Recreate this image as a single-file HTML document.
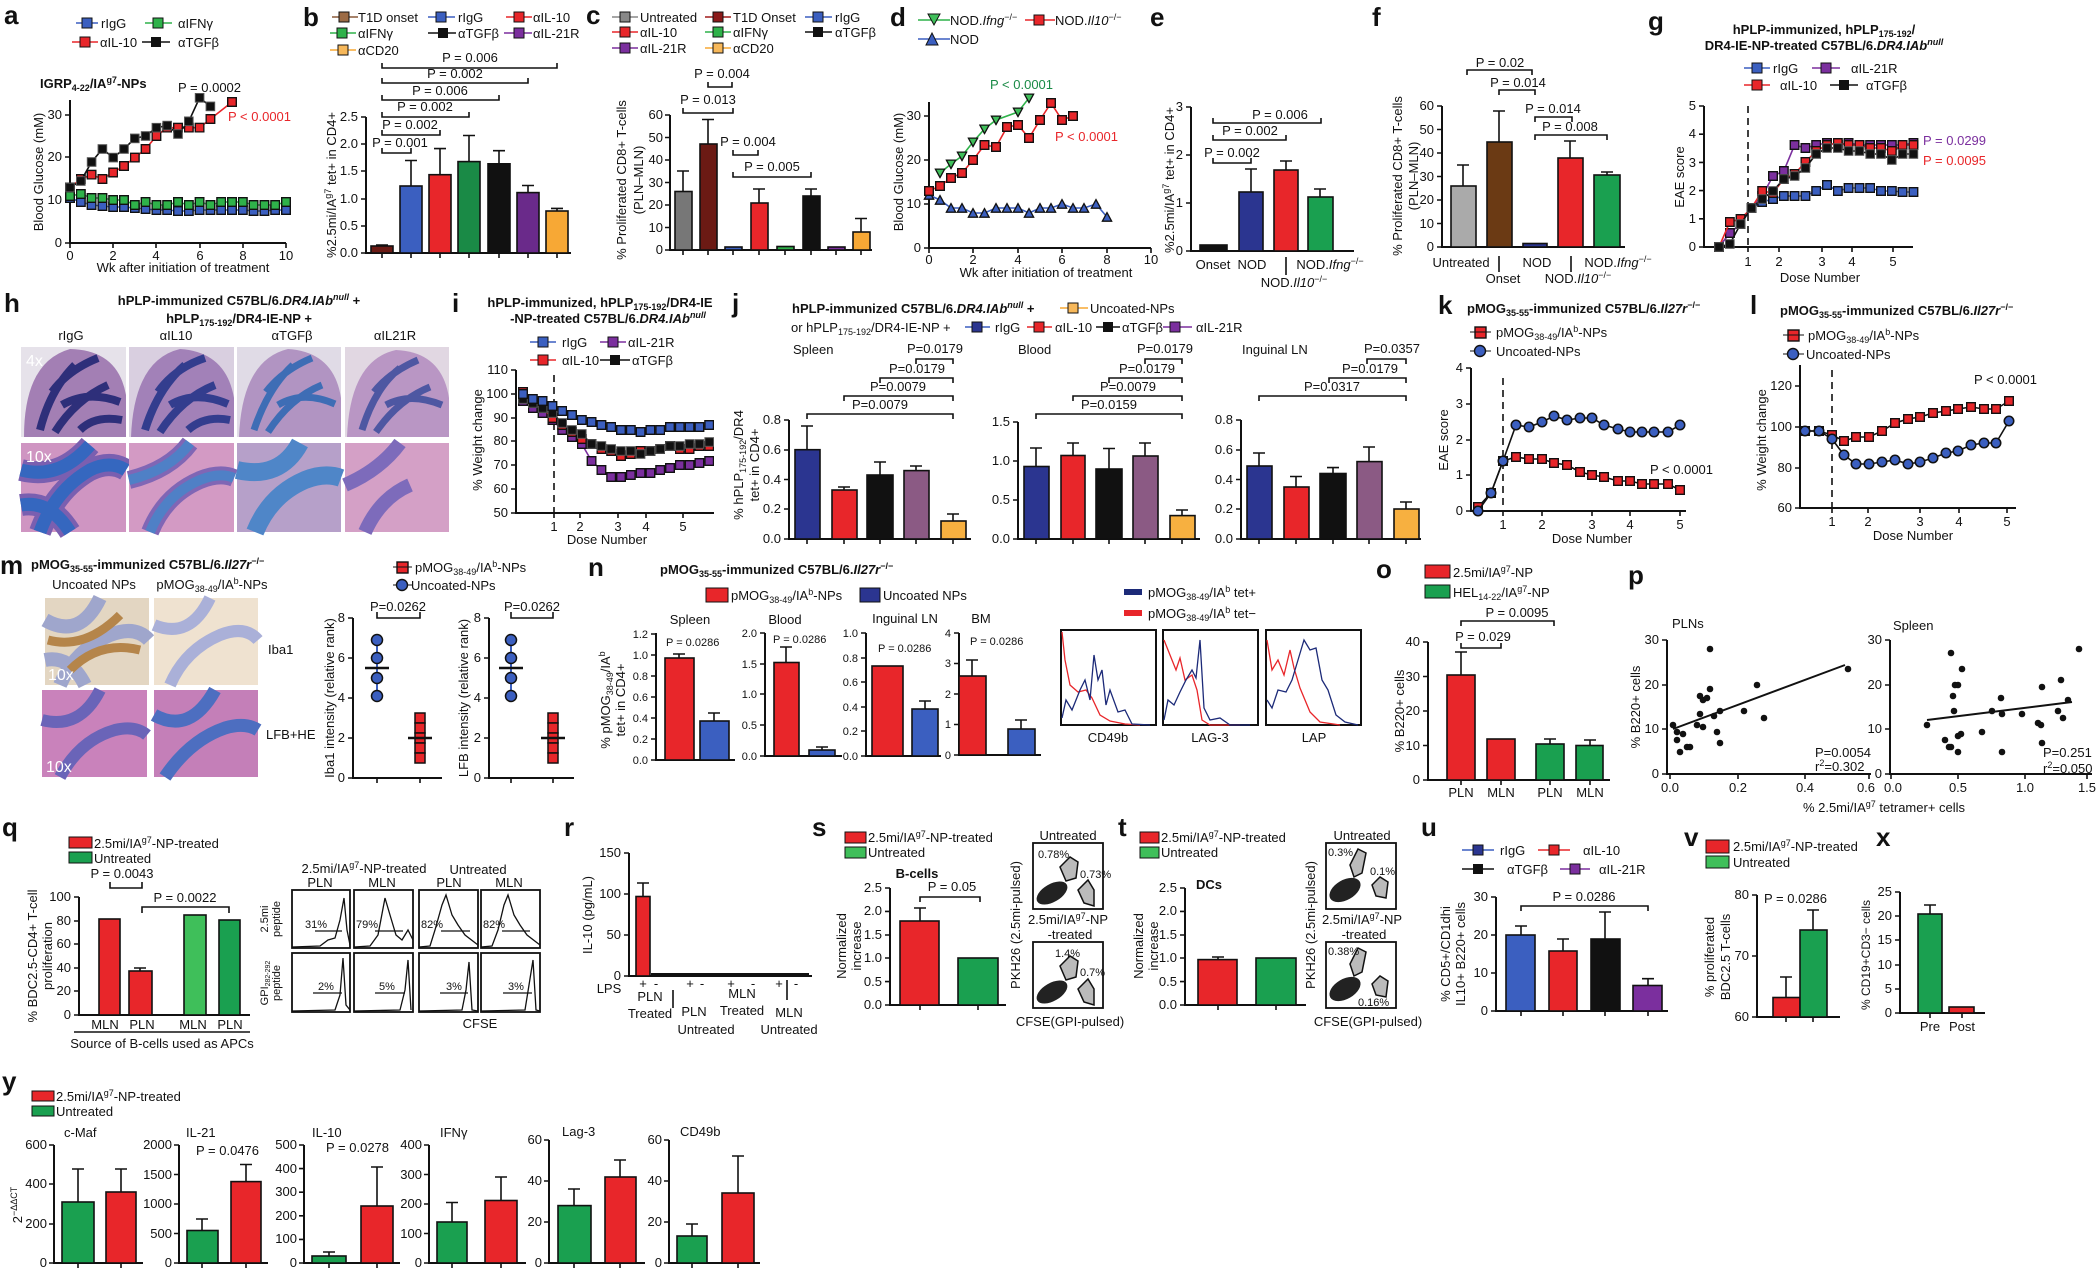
<!DOCTYPE html>
<html><head><meta charset="utf-8"><style>
html,body{margin:0;padding:0;background:#fff}
svg{display:block}
text{font-family:"Liberation Sans",Arial,sans-serif;font-size:13px;fill:#111}
.L{font-size:26px;font-weight:bold}
.b{font-weight:bold}
.s{font-size:11px}
.ax{fill:none;stroke:#111;stroke-width:2}
.br{fill:none;stroke:#111;stroke-width:1.6}
.e{stroke:#111;stroke-width:1.6}
.bar{stroke:#111;stroke-width:1.6}
.ln{fill:none;stroke-width:1.6}
</style></head><body>
<svg width="2100" height="1268" viewBox="0 0 2100 1268" xmlns="http://www.w3.org/2000/svg">
<defs>
<marker id="mR" viewBox="0 0 10 10" refX="5" refY="5" markerWidth="10" markerHeight="10" markerUnits="userSpaceOnUse"><rect x="0.7" y="0.7" width="8.6" height="8.6" fill="#e8262a" stroke="#111" stroke-width="1.4"/></marker>
<marker id="mB" viewBox="0 0 10 10" refX="5" refY="5" markerWidth="10" markerHeight="10" markerUnits="userSpaceOnUse"><rect x="0.7" y="0.7" width="8.6" height="8.6" fill="#3b5fc0" stroke="#111" stroke-width="1.4"/></marker>
<marker id="mG" viewBox="0 0 10 10" refX="5" refY="5" markerWidth="10" markerHeight="10" markerUnits="userSpaceOnUse"><rect x="0.7" y="0.7" width="8.6" height="8.6" fill="#2fb24a" stroke="#111" stroke-width="1.4"/></marker>
<marker id="mK" viewBox="0 0 10 10" refX="5" refY="5" markerWidth="10" markerHeight="10" markerUnits="userSpaceOnUse"><rect x="0.7" y="0.7" width="8.6" height="8.6" fill="#111" stroke="#555" stroke-width="1"/></marker>
<marker id="mP" viewBox="0 0 10 10" refX="5" refY="5" markerWidth="10" markerHeight="10" markerUnits="userSpaceOnUse"><rect x="0.7" y="0.7" width="8.6" height="8.6" fill="#7b2f9e" stroke="#111" stroke-width="1.4"/></marker>
<marker id="cB" viewBox="0 0 10 10" refX="5" refY="5" markerWidth="11" markerHeight="11" markerUnits="userSpaceOnUse"><circle cx="5" cy="5" r="4.3" fill="#3b5fc0" stroke="#111" stroke-width="1.4"/></marker>
<marker id="tG" viewBox="0 0 10 10" refX="5" refY="5" markerWidth="11" markerHeight="11" markerUnits="userSpaceOnUse"><path d="M0.8 1.5H9.2L5 9.2Z" fill="#3fbf5a" stroke="#111" stroke-width="1.2"/></marker>
<marker id="tB" viewBox="0 0 10 10" refX="5" refY="5" markerWidth="11" markerHeight="11" markerUnits="userSpaceOnUse"><path d="M0.8 8.8H9.2L5 1Z" fill="#3b5fc0" stroke="#111" stroke-width="1.2"/></marker>
</defs>

<!-- ================= a ================= -->
<text x="4" y="24" class="L">a</text>
<g>
<line x1="76" y1="23" x2="98" y2="23" stroke="#3b5fc0" stroke-width="1.5"/><rect x="82" y="18" width="10" height="10" fill="#3b5fc0" stroke="#111"/><text x="101" y="28">rIgG</text>
<line x1="145" y1="23" x2="172" y2="23" stroke="#2fb24a" stroke-width="1.5"/><rect x="153" y="18" width="10" height="10" fill="#2fb24a" stroke="#111"/><text x="178" y="28">αIFNγ</text>
<line x1="72" y1="42" x2="98" y2="42" stroke="#e8262a" stroke-width="1.5"/><rect x="80" y="37" width="10" height="10" fill="#e8262a" stroke="#111"/><text x="100" y="47">αIL-10</text>
<line x1="142" y1="42" x2="170" y2="42" stroke="#111" stroke-width="1.5"/><rect x="151" y="37" width="10" height="10" fill="#111"/><text x="178" y="47">αTGFβ</text>
<text x="40" y="88" class="b">IGRP<tspan font-size="9" dy="3">4-22</tspan><tspan dy="-3">/IA</tspan><tspan font-size="9" dy="-5">g7</tspan><tspan dy="5">-NPs</tspan></text>
<path class="ax" d="M70 100V243H286"/>
<g class="e"><path d="M70 243h-5M70 200h-5M70 157h-5M70 115h-5M70 243v5M113 243v5M156 243v5M200 243v5M243 243v5M286 243v5"/></g>
<text x="62" y="247" text-anchor="end">0</text><text x="62" y="204" text-anchor="end">10</text><text x="62" y="161" text-anchor="end">20</text><text x="62" y="119" text-anchor="end">30</text>
<text x="70" y="260" text-anchor="middle">0</text><text x="113" y="260" text-anchor="middle">2</text><text x="156" y="260" text-anchor="middle">4</text><text x="200" y="260" text-anchor="middle">6</text><text x="243" y="260" text-anchor="middle">8</text><text x="286" y="260" text-anchor="middle">10</text>
<text x="183" y="272" text-anchor="middle">Wk after initiation of treatment</text>
<text transform="translate(43,172) rotate(-90)" text-anchor="middle">Blood Glucose (mM)</text>
<text x="178" y="92">P = 0.0002</text><text x="228" y="121" style="fill:#e8262a">P &lt; 0.0001</text>
<polyline class="ln" stroke="#3b5fc0" marker-start="url(#mB)" marker-mid="url(#mB)" marker-end="url(#mB)" points="70,198 80.8,202 91.6,205 102.4,206 113.2,207 124,207 134.8,208 145.6,209 156.4,210 167.2,210 178,211 188.8,211 199.6,210 210.4,210 221.2,210 232,210 242.8,210 253.6,211 264.4,211 275.2,210 286,210"/>
<polyline class="ln" stroke="#2fb24a" marker-start="url(#mG)" marker-mid="url(#mG)" marker-end="url(#mG)" points="70,196 80.8,194 91.6,198 102.4,198 113.2,200 124,200 134.8,205 145.6,202 156.4,205 167.2,205 178,202 188.8,205 199.6,202 210.4,205 221.2,202 232,202 242.8,202 253.6,205 264.4,205 275.2,205 286,202"/>
<polyline class="ln" stroke="#e8262a" marker-start="url(#mR)" marker-mid="url(#mR)" marker-end="url(#mR)" points="70,187.5 80.8,179 91.6,174.7 102.4,179 113.2,172.5 124,166 134.8,157.6 145.6,149 156.4,136 167.2,127.7 178,127.7 188.8,127.7 199.6,127.7 210.4,119 232,102"/>
<polyline class="ln" stroke="#111" marker-start="url(#mK)" marker-mid="url(#mK)" marker-end="url(#mK)" points="70,187.5 80.8,181 91.6,162 102.4,149 113.2,157.6 124,149 134.8,138.4 145.6,136 156.4,127.7 167.2,125.6 178,134 188.8,121.3 199.6,97.8 210.4,106.4"/>
</g>

<!-- ================= b ================= -->
<text x="303" y="26" class="L">b</text>
<g>
<line x1="332" y1="17" x2="358" y2="17" stroke="#8a5a3a" stroke-width="1.5"/><rect x="339" y="12" width="10" height="10" fill="#9c6b45" stroke="#111"/><text x="358" y="22">T1D onset</text>
<line x1="428" y1="17" x2="455" y2="17" stroke="#3b5fc0" stroke-width="1.5"/><rect x="436" y="12" width="10" height="10" fill="#3b5fc0" stroke="#111"/><text x="458" y="22">rIgG</text>
<line x1="506" y1="17" x2="532" y2="17" stroke="#e8262a" stroke-width="1.5"/><rect x="514" y="12" width="10" height="10" fill="#e8262a" stroke="#111"/><text x="533" y="22">αIL-10</text>
<line x1="330" y1="33" x2="356" y2="33" stroke="#2fb24a" stroke-width="1.5"/><rect x="337" y="28" width="10" height="10" fill="#2fb24a" stroke="#111"/><text x="358" y="38">αIFNγ</text>
<line x1="428" y1="33" x2="456" y2="33" stroke="#111" stroke-width="1.5"/><rect x="438" y="28" width="10" height="10" fill="#111"/><text x="458" y="38">αTGFβ</text>
<line x1="504" y1="33" x2="532" y2="33" stroke="#7b2f9e" stroke-width="1.5"/><rect x="514" y="28" width="10" height="10" fill="#7b2f9e" stroke="#111"/><text x="533" y="38">αIL-21R</text>
<line x1="330" y1="50" x2="356" y2="50" stroke="#f7a835" stroke-width="1.5"/><rect x="338" y="45" width="10" height="10" fill="#f7b85a" stroke="#111"/><text x="358" y="55">αCD20</text>
<path class="ax" d="M366 117V253H571"/>
<g class="e"><path d="M366 253h-5M366 226h-5M366 199h-5M366 171h-5M366 144h-5M366 117h-5M382 253v5M411 253v5M440 253v5M469 253v5M499 253v5M528 253v5M557 253v5"/></g>
<text x="358" y="257" text-anchor="end">0.0</text><text x="358" y="230" text-anchor="end">0.5</text><text x="358" y="203" text-anchor="end">1.0</text><text x="358" y="175" text-anchor="end">1.5</text><text x="358" y="148" text-anchor="end">2.0</text><text x="358" y="121" text-anchor="end">2.5</text>
<text transform="translate(336,185) rotate(-90)" text-anchor="middle">%2.5mi/IA<tspan font-size="9" dy="-5">g7</tspan><tspan dy="5"> tet+ in CD4+</tspan></text>
<g class="e"><path d="M382 246V245M376 245h12M411 186V160.5M405 160.5h12M440 175V148.6M434 148.6h12M469 162V135.5M463 135.5h12M499 164V150.7M493 150.7h12M528 193V185.5M522 185.5h12M557 211V208.4M551 208.4h12"/></g>
<rect class="bar" x="371" y="246" width="22" height="7" fill="#6b1a14"/>
<rect class="bar" x="400" y="186" width="22" height="67" fill="#3b5fc0"/>
<rect class="bar" x="429" y="174.7" width="22" height="78.3" fill="#e8262a"/>
<rect class="bar" x="458" y="161.6" width="22" height="91.4" fill="#1a8a46"/>
<rect class="bar" x="488" y="163.8" width="22" height="89.2" fill="#111"/>
<rect class="bar" x="517" y="192.6" width="22" height="60.4" fill="#6a2a8a"/>
<rect class="bar" x="546" y="211" width="22" height="42" fill="#f7a835"/>
<g class="br"><path d="M382 148V153H411V148M382 130V135H440V130M382 112V117H469V112M382 95V100H499V95M382 78V83H528V78M382 63V68H557V63"/></g>
<text x="400" y="147" text-anchor="middle">P = 0.001</text><text x="410" y="129" text-anchor="middle">P = 0.002</text><text x="425" y="111" text-anchor="middle">P = 0.002</text><text x="440" y="95" text-anchor="middle">P = 0.006</text><text x="455" y="78" text-anchor="middle">P = 0.002</text><text x="470" y="62" text-anchor="middle">P = 0.006</text>
</g>

<!-- ================= c ================= -->
<text x="586" y="24" class="L">c</text>
<g>
<line x1="612" y1="17" x2="638" y2="17" stroke="#888" stroke-width="1.5"/><rect x="620" y="12" width="10" height="10" fill="#888" stroke="#111"/><text x="640" y="22">Untreated</text>
<line x1="705" y1="17" x2="731" y2="17" stroke="#a01a1a" stroke-width="1.5"/><rect x="713" y="12" width="10" height="10" fill="#8b1a1a" stroke="#111"/><text x="733" y="22">T1D Onset</text>
<line x1="805" y1="17" x2="832" y2="17" stroke="#3b5fc0" stroke-width="1.5"/><rect x="813" y="12" width="10" height="10" fill="#3b5fc0" stroke="#111"/><text x="835" y="22">rIgG</text>
<line x1="612" y1="32" x2="638" y2="32" stroke="#e8262a" stroke-width="1.5"/><rect x="620" y="27" width="10" height="10" fill="#e8262a" stroke="#111"/><text x="640" y="37">αIL-10</text>
<line x1="705" y1="32" x2="731" y2="32" stroke="#2fb24a" stroke-width="1.5"/><rect x="713" y="27" width="10" height="10" fill="#2fb24a" stroke="#111"/><text x="733" y="37">αIFNγ</text>
<line x1="805" y1="32" x2="832" y2="32" stroke="#111" stroke-width="1.5"/><rect x="813" y="27" width="10" height="10" fill="#111"/><text x="835" y="37">αTGFβ</text>
<line x1="612" y1="48" x2="638" y2="48" stroke="#7b2f9e" stroke-width="1.5"/><rect x="620" y="43" width="10" height="10" fill="#7b2f9e" stroke="#111"/><text x="640" y="53">αIL-21R</text>
<line x1="705" y1="48" x2="731" y2="48" stroke="#f7a835" stroke-width="1.5"/><rect x="713" y="43" width="10" height="10" fill="#f7b85a" stroke="#111"/><text x="733" y="53">αCD20</text>
<path class="ax" d="M670 115V250H872"/>
<g class="e"><path d="M670 250h-5M670 227.5h-5M670 205h-5M670 182.5h-5M670 160h-5M670 137.5h-5M670 115h-5M683 250v5M708 250v5M733 250v5M759 250v5M785 250v5M811 250v5M836 250v5M861 250v5"/></g>
<text x="663" y="254" text-anchor="end">0</text><text x="663" y="232" text-anchor="end">10</text><text x="663" y="209" text-anchor="end">20</text><text x="663" y="187" text-anchor="end">30</text><text x="663" y="164" text-anchor="end">40</text><text x="663" y="142" text-anchor="end">50</text><text x="663" y="119" text-anchor="end">60</text>
<text transform="translate(626,180) rotate(-90)" text-anchor="middle">% Proliferated CD8+ T-cells</text>
<text transform="translate(643,180) rotate(-90)" text-anchor="middle">(PLN–MLN)</text>
<g class="e"><path d="M683 191V171M677 171h12M708 144V119.5M702 119.5h12M759 203V189M753 189h12M811 196V189M805 189h12M861 232V218.5M855 218.5h12"/></g>
<rect class="bar" x="675" y="191.5" width="17" height="58.5" fill="#777"/>
<rect class="bar" x="700" y="144" width="17" height="106" fill="#6b1a14"/>
<rect class="bar" x="725" y="247" width="17" height="3" fill="#3b5fc0"/>
<rect class="bar" x="751" y="203" width="17" height="47" fill="#e8262a"/>
<rect class="bar" x="777" y="246.5" width="17" height="3.5" fill="#2fb24a"/>
<rect class="bar" x="803" y="196" width="17" height="54" fill="#111"/>
<rect class="bar" x="828" y="247" width="17" height="3" fill="#7b2f9e"/>
<rect class="bar" x="853" y="232" width="17" height="18" fill="#f7a835"/>
<g class="br"><path d="M708 82V87H732V82M683 108V113H733V108M733 150V155H758V150M733 172V177H811V172"/></g>
<text x="722" y="78" text-anchor="middle">P = 0.004</text><text x="708" y="104" text-anchor="middle">P = 0.013</text><text x="748" y="146" text-anchor="middle">P = 0.004</text><text x="772" y="171" text-anchor="middle">P = 0.005</text>
</g>

<!-- ================= d ================= -->
<text x="890" y="26" class="L">d</text>
<g>
<line x1="918" y1="20" x2="950" y2="20" stroke="#2fb24a" stroke-width="1.5"/><path d="M928 14H940L934 25Z" fill="#3fbf5a" stroke="#111"/><text x="950" y="25">NOD.<tspan font-style="italic">Ifng</tspan><tspan font-size="9" dy="-5">−/−</tspan></text>
<line x1="1025" y1="20" x2="1055" y2="20" stroke="#e8262a" stroke-width="1.5"/><rect x="1034" y="15" width="10" height="10" fill="#e8262a" stroke="#111"/><text x="1055" y="25">NOD.<tspan font-style="italic">Il10</tspan><tspan font-size="9" dy="-5">−/−</tspan></text>
<line x1="918" y1="39" x2="950" y2="39" stroke="#3b5fc0" stroke-width="1.5"/><path d="M926 45H938L932 33Z" fill="#3b5fc0" stroke="#111"/><text x="950" y="44">NOD</text>
<text x="990" y="89" style="fill:#1a8a46">P &lt; 0.0001</text>
<text x="1055" y="141" style="fill:#e8262a">P &lt; 0.0001</text>
<path class="ax" d="M929 102V248H1151"/>
<g class="e"><path d="M929 248h-5M929 204h-5M929 160h-5M929 116h-5M929 248v5M973 248v5M1018 248v5M1062 248v5M1107 248v5M1151 248v5"/></g>
<text x="921" y="252" text-anchor="end">0</text><text x="921" y="208" text-anchor="end">10</text><text x="921" y="164" text-anchor="end">20</text><text x="921" y="120" text-anchor="end">30</text>
<text x="929" y="264" text-anchor="middle">0</text><text x="973" y="264" text-anchor="middle">2</text><text x="1018" y="264" text-anchor="middle">4</text><text x="1062" y="264" text-anchor="middle">6</text><text x="1107" y="264" text-anchor="middle">8</text><text x="1151" y="264" text-anchor="middle">10</text>
<text x="1046" y="277" text-anchor="middle">Wk after initiation of treatment</text>
<text transform="translate(903,172) rotate(-90)" text-anchor="middle">Blood Glucose (mM)</text>
<polyline class="ln" stroke="#3b5fc0" marker-start="url(#tB)" marker-mid="url(#tB)" marker-end="url(#tB)" points="929,195 940,200 951,208 962,208 973,213 984.5,213 996,208 1007,208 1018,208 1029,213 1040,208 1051,208 1062,204 1073,208 1084,208 1096,204 1107,217"/>
<polyline class="ln" stroke="#e8262a" marker-start="url(#mR)" marker-mid="url(#mR)" marker-end="url(#mR)" points="929,191 940,186 951,178 962,173 973,160 984.5,145 996,147 1007,127 1018,125 1029,138 1040,120 1051,103 1062,120 1073,116"/>
<polyline class="ln" stroke="#2fb24a" marker-start="url(#tG)" marker-mid="url(#tG)" marker-end="url(#tG)" points="940,173 951,164 962,156 973,142 984.5,129 996,120 1018,112 1029,98"/>
</g>

<!-- ================= e ================= -->
<text x="1150" y="26" class="L">e</text>
<g>
<path class="ax" d="M1191 107V251H1354"/>
<g class="e"><path d="M1191 251h-5M1191 203h-5M1191 155h-5M1191 107h-5"/></g>
<text x="1183" y="255" text-anchor="end">0</text><text x="1183" y="207" text-anchor="end">1</text><text x="1183" y="159" text-anchor="end">2</text><text x="1183" y="111" text-anchor="end">3</text>
<text transform="translate(1174,180) rotate(-90)" text-anchor="middle">%2.5mi/IA<tspan font-size="9" dy="-5">g7</tspan><tspan dy="5"> tet+ in CD4+</tspan></text>
<g class="e"><path d="M1251 192V169M1245 169h12M1286 170V161M1280 161h12M1320 197V189M1314 189h12"/></g>
<rect class="bar" x="1200" y="245" width="27" height="6" fill="#111"/>
<rect class="bar" x="1239" y="192" width="24" height="59" fill="#2b3590"/>
<rect class="bar" x="1274" y="170" width="24" height="81" fill="#e8262a"/>
<rect class="bar" x="1308" y="197" width="25" height="54" fill="#1aa050"/>
<g class="br"><path d="M1213 158V163H1251V158M1213 135V140H1286V135M1213 118V123H1321V118"/></g>
<text x="1232" y="157" text-anchor="middle">P = 0.002</text><text x="1250" y="135" text-anchor="middle">P = 0.002</text><text x="1280" y="119" text-anchor="middle">P = 0.006</text>
<text x="1213" y="269" text-anchor="middle">Onset</text><text x="1252" y="269" text-anchor="middle">NOD</text><text x="1330" y="269" text-anchor="middle">NOD.<tspan font-style="italic">Ifng</tspan><tspan font-size="9" dy="-5">−/−</tspan></text>
<text x="1294" y="287" text-anchor="middle">NOD.<tspan font-style="italic">Il10</tspan><tspan font-size="9" dy="-5">−/−</tspan></text>
<path class="e" d="M1286 257V275"/>
</g>

<!-- ================= f ================= -->
<text x="1372" y="26" class="L">f</text>
<g>
<path class="ax" d="M1442 106V247H1625"/>
<g class="e"><path d="M1442 247h-5M1442 223.5h-5M1442 200h-5M1442 176.5h-5M1442 153h-5M1442 129.5h-5M1442 106h-5"/></g>
<text x="1434" y="251" text-anchor="end">0</text><text x="1434" y="228" text-anchor="end">10</text><text x="1434" y="204" text-anchor="end">20</text><text x="1434" y="181" text-anchor="end">30</text><text x="1434" y="157" text-anchor="end">40</text><text x="1434" y="134" text-anchor="end">50</text><text x="1434" y="110" text-anchor="end">60</text>
<text transform="translate(1402,176) rotate(-90)" text-anchor="middle">% Proliferated CD8+ T-cells</text>
<text transform="translate(1418,176) rotate(-90)" text-anchor="middle">(PLN–MLN)</text>
<g class="e"><path d="M1463 186V165M1457 165h12M1499 142V111M1493 111h12M1570 158V141M1564 141h12M1607 175V172M1601 172h12"/></g>
<rect class="bar" x="1451" y="186" width="25" height="61" fill="#aaa"/>
<rect class="bar" x="1487" y="142" width="25" height="105" fill="#6b3a14"/>
<rect class="bar" x="1523" y="243.5" width="24" height="3.5" fill="#2b3590"/>
<rect class="bar" x="1558" y="158" width="25" height="89" fill="#e8262a"/>
<rect class="bar" x="1594" y="175" width="26" height="72" fill="#1aa050"/>
<g class="br"><path d="M1467 75V70H1532V75M1499 95V90H1535V95M1535 122V117H1572V122M1535 140V135H1607V140"/></g>
<text x="1500" y="67" text-anchor="middle">P = 0.02</text><text x="1518" y="87" text-anchor="middle">P = 0.014</text><text x="1553" y="113" text-anchor="middle">P = 0.014</text><text x="1570" y="131" text-anchor="middle">P = 0.008</text>
<text x="1461" y="267" text-anchor="middle">Untreated</text><text x="1503" y="283" text-anchor="middle">Onset</text><text x="1537" y="267" text-anchor="middle">NOD</text><text x="1578" y="283" text-anchor="middle">NOD.<tspan font-style="italic">Il10</tspan><tspan font-size="9" dy="-5">−/−</tspan></text><text x="1618" y="267" text-anchor="middle">NOD.<tspan font-style="italic">Ifng</tspan><tspan font-size="9" dy="-5">−/−</tspan></text>
<path class="e" d="M1499 256V272M1571 256V272"/>
</g>

<!-- ================= g ================= -->
<text x="1648" y="30" class="L">g</text>
<g>
<text x="1824" y="34" text-anchor="middle" class="b">hPLP-immunized, hPLP<tspan font-size="9" dy="3">175-192</tspan><tspan dy="-3">/</tspan></text>
<text x="1824" y="50" text-anchor="middle" class="b">DR4-IE-NP-treated C57BL/6.<tspan font-style="italic">DR4.IAb</tspan><tspan font-size="9" dy="-5" font-style="italic">null</tspan></text>
<line x1="1744" y1="68" x2="1770" y2="68" stroke="#3b5fc0" stroke-width="1.5"/><rect x="1752" y="63" width="10" height="10" fill="#3b5fc0" stroke="#111"/><text x="1773" y="73">rIgG</text>
<line x1="1812" y1="68" x2="1840" y2="68" stroke="#7b2f9e" stroke-width="1.5"/><rect x="1821" y="63" width="10" height="10" fill="#7b2f9e" stroke="#111"/><text x="1851" y="73">αIL-21R</text>
<line x1="1744" y1="85" x2="1770" y2="85" stroke="#e8262a" stroke-width="1.5"/><rect x="1752" y="80" width="10" height="10" fill="#e8262a" stroke="#111"/><text x="1780" y="90">αIL-10</text>
<line x1="1830" y1="85" x2="1858" y2="85" stroke="#111" stroke-width="1.5"/><rect x="1839" y="80" width="10" height="10" fill="#111"/><text x="1866" y="90">αTGFβ</text>
<path class="ax" d="M1704 106V247H1913"/>
<g class="e"><path d="M1704 247h-5M1704 218.8h-5M1704 190.6h-5M1704 162.4h-5M1704 134.2h-5M1704 106h-5M1748 247v5M1779 247v5M1822 247v5M1852 247v5M1893 247v5"/></g>
<text x="1696" y="251" text-anchor="end">0</text><text x="1696" y="223" text-anchor="end">1</text><text x="1696" y="195" text-anchor="end">2</text><text x="1696" y="167" text-anchor="end">3</text><text x="1696" y="138" text-anchor="end">4</text><text x="1696" y="110" text-anchor="end">5</text>
<text x="1748" y="266" text-anchor="middle">1</text><text x="1779" y="266" text-anchor="middle">2</text><text x="1822" y="266" text-anchor="middle">3</text><text x="1852" y="266" text-anchor="middle">4</text><text x="1893" y="266" text-anchor="middle">5</text>
<text x="1820" y="282" text-anchor="middle">Dose Number</text>
<text transform="translate(1684,177) rotate(-90)" text-anchor="middle">EAE score</text>
<line x1="1748" y1="106" x2="1748" y2="247" stroke="#111" stroke-width="1.6" stroke-dasharray="7,5"/>
<polyline class="ln" stroke="#3b5fc0" marker-start="url(#mB)" marker-mid="url(#mB)" marker-end="url(#mB)" points="1719,247 1729.8,233 1740.6,224 1751.4,208 1762.2,202 1773,199 1783.8,196 1794.6,196 1805.4,196 1816.2,191 1827,185 1837.8,191 1848.6,188 1859.4,188 1870.2,188 1881,191 1891.8,191 1902.6,192 1913.4,192"/>
<polyline class="ln" stroke="#7b2f9e" marker-start="url(#mP)" marker-mid="url(#mP)" marker-end="url(#mP)" points="1719,247 1729.8,233 1740.6,224 1751.4,208 1762.2,196 1773,176 1783.8,171 1794.6,145 1805.4,148 1816.2,145 1827,143 1837.8,145 1848.6,143 1859.4,145 1870.2,145 1881,145 1891.8,145 1902.6,145 1913.4,143"/>
<polyline class="ln" stroke="#e8262a" marker-start="url(#mR)" marker-mid="url(#mR)" marker-end="url(#mR)" points="1719,247 1729.8,222 1740.6,219 1751.4,208 1762.2,191 1773,193 1783.8,179 1794.6,174 1805.4,162 1816.2,151 1827,145 1837.8,143 1848.6,145 1859.4,145 1870.2,148 1881,148 1891.8,151 1902.6,145 1913.4,145"/>
<polyline class="ln" stroke="#111" marker-start="url(#mK)" marker-mid="url(#mK)" marker-end="url(#mK)" points="1719,247 1729.8,244 1740.6,224 1751.4,208 1762.2,199 1773,191 1783.8,179 1794.6,176 1805.4,168 1816.2,154 1827,148 1837.8,148 1848.6,151 1859.4,151 1870.2,154 1881,154 1891.8,160 1902.6,154 1913.4,154"/>
<text x="1923" y="145" style="fill:#7b2f9e">P = 0.0299</text><text x="1923" y="165" style="fill:#e8262a">P = 0.0095</text>
</g>

<!-- ================= h ================= -->
<text x="4" y="312" class="L">h</text>
<g>
<text x="239" y="305" text-anchor="middle" class="b">hPLP-immunized C57BL/6.<tspan font-style="italic">DR4.IAb</tspan><tspan font-size="9" dy="-5" font-style="italic">null</tspan><tspan dy="5"> +</tspan></text>
<text x="239" y="323" text-anchor="middle" class="b">hPLP<tspan font-size="9" dy="3">175-192</tspan><tspan dy="-3">/DR4-IE-NP +</tspan></text>
<text x="71" y="340" text-anchor="middle">rIgG</text><text x="176" y="340" text-anchor="middle">αIL10</text><text x="292" y="340" text-anchor="middle">αTGFβ</text><text x="395" y="340" text-anchor="middle">αIL21R</text>
<rect x="21" y="347" width="105" height="90" fill="#e6e2ea"/>
<path d="M24 437 Q24 362 70 349 Q118 350 126 395 L126 437Z" fill="#a37fb4"/>
<path d="M40 430 Q50 390 75 365 M55 432 Q75 400 108 385 M62 405 Q88 390 120 402 M52 392 Q68 370 98 358 M80 430 Q95 415 122 420" stroke="#2e2f7a" stroke-width="8" fill="none"/>
<rect x="129" y="347" width="105" height="90" fill="#d9cfe0"/>
<path d="M131 437 Q134 360 180 349 Q226 352 234 398 L234 437Z" fill="#a281b8"/>
<path d="M145 430 Q158 388 185 365 M160 432 Q182 398 215 385 M170 405 Q195 390 228 404 M158 392 Q175 368 205 358 M188 430 Q205 415 230 420" stroke="#333d8e" stroke-width="8" fill="none"/>
<rect x="237" y="347" width="104" height="90" fill="#e0dbe6"/>
<path d="M239 437 Q242 360 288 349 Q334 352 341 398 L341 437Z" fill="#b194c2"/>
<path d="M254 430 Q268 388 293 365 M268 432 Q290 398 322 385 M278 405 Q303 390 335 404 M266 392 Q283 370 312 358" stroke="#3e6db5" stroke-width="7" fill="none"/>
<rect x="345" y="347" width="104" height="90" fill="#e1d7e2"/>
<path d="M347 437 Q350 360 396 350 Q442 352 449 398 L449 437Z" fill="#b996c4"/>
<path d="M362 430 Q375 388 400 368 M376 432 Q398 400 430 387 M386 405 Q410 392 442 405 M374 392 Q390 372 418 360" stroke="#4e57a2" stroke-width="7" fill="none"/>
<text x="26" y="366" style="fill:#fff;font-size:16px">4x</text>
<rect x="21" y="443" width="105" height="89" fill="#cf95c2"/>
<path d="M21 470 Q60 480 90 445 M40 532 Q55 490 90 470 Q110 460 126 470 M21 505 Q50 500 70 532" stroke="#7a5fb0" stroke-width="22" fill="none"/>
<path d="M21 470 Q60 480 90 445 M40 532 Q55 490 90 470 Q110 460 126 470 M21 505 Q50 500 70 532" stroke="#3567bf" stroke-width="13" fill="none"/>
<rect x="129" y="443" width="105" height="89" fill="#d39ac4"/>
<path d="M129 480 Q170 470 190 443 M150 532 Q165 495 200 480 Q220 472 234 478" stroke="#8066b5" stroke-width="18" fill="none"/>
<path d="M129 480 Q170 470 190 443 M150 532 Q165 495 200 480 Q220 472 234 478" stroke="#4f80c6" stroke-width="10" fill="none"/>
<rect x="237" y="443" width="104" height="89" fill="#b6a0c9"/>
<path d="M237 470 Q280 480 300 443 M255 532 Q270 495 305 480 Q325 472 341 478" stroke="#4f86c8" stroke-width="18" fill="none"/>
<rect x="345" y="443" width="104" height="89" fill="#d4a0c6"/>
<path d="M345 485 Q380 470 400 443 M365 532 Q380 498 410 485" stroke="#7d6bbb" stroke-width="14" fill="none"/>
<text x="26" y="462" style="fill:#fff;font-size:16px">10x</text>
</g>

<!-- ================= i ================= -->
<text x="452" y="312" class="L">i</text>
<g>
<text x="600" y="307" text-anchor="middle" class="b">hPLP-immunized, hPLP<tspan font-size="9" dy="3">175-192</tspan><tspan dy="-3">/DR4-IE</tspan></text>
<text x="608" y="323" text-anchor="middle" class="b">-NP-treated C57BL/6.<tspan font-style="italic">DR4.IAb</tspan><tspan font-size="9" dy="-5" font-style="italic">null</tspan></text>
<line x1="530" y1="342" x2="556" y2="342" stroke="#3b5fc0" stroke-width="1.5"/><rect x="538" y="337" width="10" height="10" fill="#3b5fc0" stroke="#111"/><text x="562" y="347">rIgG</text>
<line x1="600" y1="342" x2="626" y2="342" stroke="#7b2f9e" stroke-width="1.5"/><rect x="608" y="337" width="10" height="10" fill="#7b2f9e" stroke="#111"/><text x="628" y="347">αIL-21R</text>
<line x1="530" y1="360" x2="556" y2="360" stroke="#e8262a" stroke-width="1.5"/><rect x="538" y="355" width="10" height="10" fill="#e8262a" stroke="#111"/><text x="562" y="365">αIL-10</text>
<line x1="600" y1="360" x2="630" y2="360" stroke="#111" stroke-width="1.5"/><rect x="610" y="355" width="10" height="10" fill="#111"/><text x="632" y="365">αTGFβ</text>
<path class="ax" d="M516 370V513H714"/>
<g class="e"><path d="M516 513h-5M516 489h-5M516 465h-5M516 441h-5M516 418h-5M516 394h-5M516 370h-5M554 513v5M580 513v5M618 513v5M646 513v5M683 513v5"/></g>
<text x="508" y="517" text-anchor="end">50</text><text x="508" y="493" text-anchor="end">60</text><text x="508" y="469" text-anchor="end">70</text><text x="508" y="445" text-anchor="end">80</text><text x="508" y="422" text-anchor="end">90</text><text x="508" y="398" text-anchor="end">100</text><text x="508" y="374" text-anchor="end">110</text>
<text x="554" y="531" text-anchor="middle">1</text><text x="580" y="531" text-anchor="middle">2</text><text x="618" y="531" text-anchor="middle">3</text><text x="646" y="531" text-anchor="middle">4</text><text x="683" y="531" text-anchor="middle">5</text>
<text x="607" y="544" text-anchor="middle">Dose Number</text>
<text transform="translate(482,440) rotate(-90)" text-anchor="middle">% Weight change</text>
<line x1="554" y1="375" x2="554" y2="513" stroke="#111" stroke-width="1.6" stroke-dasharray="7,5"/>
<polyline class="ln" stroke="#7b2f9e" marker-start="url(#mP)" marker-mid="url(#mP)" marker-end="url(#mP)" points="523,401 532.8,408 542.6,413 552.4,420 562.2,430 572,437 581.8,444 591.6,461 601.4,470 611.2,477 621,477 630.8,475 640.6,473 650.4,473 660.2,470 670,468 679.8,465 689.6,465 699.4,463 709.2,461"/>
<polyline class="ln" stroke="#e8262a" marker-start="url(#mR)" marker-mid="url(#mR)" marker-end="url(#mR)" points="523,392 532.8,403 542.6,408 552.4,418 562.2,425 572,432 581.8,439 591.6,444 601.4,449 611.2,451 621,456 630.8,454 640.6,451 650.4,451 660.2,449 670,446 679.8,449 689.6,449 699.4,446 709.2,446"/>
<polyline class="ln" stroke="#111" marker-start="url(#mK)" marker-mid="url(#mK)" marker-end="url(#mK)" points="523,399 532.8,403 542.6,408 552.4,413 562.2,423 572,430 581.8,434 591.6,444 601.4,446 611.2,449 621,451 630.8,451 640.6,454 650.4,451 660.2,449 670,446 679.8,446 689.6,444 699.4,444 709.2,442"/>
<polyline class="ln" stroke="#3b5fc0" marker-start="url(#mB)" marker-mid="url(#mB)" marker-end="url(#mB)" points="523,394 532.8,399 542.6,401 552.4,406 562.2,411 572,415 581.8,420 591.6,422 601.4,425 611.2,427 621,430 630.8,430 640.6,432 650.4,430 660.2,430 670,427 679.8,427 689.6,427 699.4,427 709.2,425"/>
</g>

<!-- ================= j ================= -->
<text x="732" y="312" class="L">j</text>
<g>
<text x="792" y="313" class="b">hPLP-immunized C57BL/6.<tspan font-style="italic">DR4.IAb</tspan><tspan font-size="9" dy="-5" font-style="italic">null</tspan><tspan dy="5"> +</tspan></text>
<line x1="1060" y1="308" x2="1088" y2="308" stroke="#f7a835" stroke-width="1.5"/><rect x="1068" y="303" width="10" height="10" fill="#f7b85a" stroke="#111"/><text x="1090" y="313">Uncoated-NPs</text>
<text x="791" y="332">or hPLP<tspan font-size="9" dy="3">175-192</tspan><tspan dy="-3">/DR4-IE-NP +</tspan></text>
<line x1="965" y1="327" x2="990" y2="327" stroke="#3b5fc0" stroke-width="1.5"/><rect x="972" y="322" width="10" height="10" fill="#2b3590" stroke="#111"/><text x="995" y="332">rIgG</text>
<line x1="1027" y1="327" x2="1052" y2="327" stroke="#e8262a" stroke-width="1.5"/><rect x="1034" y="322" width="10" height="10" fill="#e8262a" stroke="#111"/><text x="1055" y="332">αIL-10</text>
<line x1="1096" y1="327" x2="1120" y2="327" stroke="#111" stroke-width="1.5"/><rect x="1103" y="322" width="10" height="10" fill="#111"/><text x="1122" y="332">αTGFβ</text>
<line x1="1163" y1="327" x2="1192" y2="327" stroke="#7b2f9e" stroke-width="1.5"/><rect x="1170" y="322" width="10" height="10" fill="#7b2f9e" stroke="#111"/><text x="1196" y="332">αIL-21R</text>
<text x="793" y="354">Spleen</text>
<path class="ax" d="M789 420V539H971"/>
<g class="e"><path d="M789 539h-5M789 509h-5M789 479.5h-5M789 450h-5M789 420h-5M807 539v5M844 539v5M880 539v5M916 539v5M953 539v5"/></g>
<text x="781" y="543" text-anchor="end">0.0</text><text x="781" y="513" text-anchor="end">0.2</text><text x="781" y="484" text-anchor="end">0.4</text><text x="781" y="454" text-anchor="end">0.6</text><text x="781" y="424" text-anchor="end">0.8</text>
<text transform="translate(743,465) rotate(-90)" text-anchor="middle">% hPLP<tspan font-size="9" dy="3">175-192</tspan><tspan dy="-3">/DR4</tspan></text>
<text transform="translate(759,465) rotate(-90)" text-anchor="middle">tet+ in CD4+</text>
<g class="e"><path d="M807 450V426M801 426h12M844 490V487M838 487h12M880 475V462M874 462h12M916 471V466M910 466h12M953 521V514M947 514h12"/></g>
<rect class="bar" x="795" y="449.7" width="25" height="89.3" fill="#2b3590"/>
<rect class="bar" x="832" y="490" width="25" height="49" fill="#e8262a"/>
<rect class="bar" x="867" y="475" width="26" height="64" fill="#111"/>
<rect class="bar" x="904" y="470.6" width="25" height="68.4" fill="#8b5a84"/>
<rect class="bar" x="941" y="521" width="25" height="18" fill="#f7b040"/>
<g class="br"><path d="M916 364V359H953V364M880 383V378H953V383M844 401V396H953V401M807 419V414H953V419"/></g>
<text x="935" y="353" text-anchor="middle">P=0.0179</text><text x="917" y="373" text-anchor="middle">P=0.0179</text><text x="898" y="391" text-anchor="middle">P=0.0079</text><text x="880" y="409" text-anchor="middle">P=0.0079</text>
<text x="1018" y="354">Blood</text>
<path class="ax" d="M1018 422V539H1200"/>
<g class="e"><path d="M1018 539h-5M1018 500h-5M1018 461h-5M1018 422h-5M1036 539v5M1073 539v5M1109 539v5M1145 539v5M1182 539v5"/></g>
<text x="1010" y="543" text-anchor="end">0.0</text><text x="1010" y="504" text-anchor="end">0.5</text><text x="1010" y="465" text-anchor="end">1.0</text><text x="1010" y="426" text-anchor="end">1.5</text>
<g class="e"><path d="M1036 466V448M1030 448h12M1073 455V443M1067 443h12M1109 469V448.5M1103 448.5h12M1145 456V443M1139 443h12M1182 515V510M1176 510h12"/></g>
<rect class="bar" x="1024" y="466.5" width="25" height="72.5" fill="#2b3590"/>
<rect class="bar" x="1061" y="455.5" width="24" height="83.5" fill="#e8262a"/>
<rect class="bar" x="1096" y="469" width="26" height="70" fill="#111"/>
<rect class="bar" x="1133" y="456" width="25" height="83" fill="#8b5a84"/>
<rect class="bar" x="1170" y="515.6" width="25" height="23.4" fill="#f7b040"/>
<g class="br"><path d="M1145 364V359H1182V364M1109 383V378H1182V383M1073 401V396H1182V401M1036 419V414H1182V419"/></g>
<text x="1165" y="353" text-anchor="middle">P=0.0179</text><text x="1147" y="373" text-anchor="middle">P=0.0179</text><text x="1128" y="391" text-anchor="middle">P=0.0079</text><text x="1109" y="409" text-anchor="middle">P=0.0159</text>
<text x="1242" y="354">Inguinal LN</text>
<path class="ax" d="M1241 420V539H1421"/>
<g class="e"><path d="M1241 539h-5M1241 509h-5M1241 479.5h-5M1241 450h-5M1241 420h-5M1259 539v5M1296 539v5M1333 539v5M1369 539v5M1406 539v5"/></g>
<text x="1233" y="543" text-anchor="end">0.0</text><text x="1233" y="513" text-anchor="end">0.2</text><text x="1233" y="484" text-anchor="end">0.4</text><text x="1233" y="454" text-anchor="end">0.6</text><text x="1233" y="424" text-anchor="end">0.8</text>
<g class="e"><path d="M1259 466V453M1253 453h12M1296 487V476.5M1290 476.5h12M1333 473V467.6M1327 467.6h12M1369 461V447M1363 447h12M1406 509V502M1400 502h12"/></g>
<rect class="bar" x="1247" y="466" width="25" height="73" fill="#2b3590"/>
<rect class="bar" x="1284" y="487" width="25" height="52" fill="#e8262a"/>
<rect class="bar" x="1320" y="473.5" width="26" height="65.5" fill="#111"/>
<rect class="bar" x="1357" y="461.6" width="25" height="77.4" fill="#8b5a84"/>
<rect class="bar" x="1394" y="509" width="25" height="30" fill="#f7b040"/>
<g class="br"><path d="M1367 364V359H1406V364M1329 383V378H1406V383M1259 401V396H1406V401"/></g>
<text x="1392" y="353" text-anchor="middle">P=0.0357</text><text x="1370" y="373" text-anchor="middle">P=0.0179</text><text x="1332" y="391" text-anchor="middle">P=0.0317</text>
</g>

<!-- ================= k ================= -->
<text x="1438" y="314" class="L">k</text>
<g>
<text x="1467" y="313" class="b">pMOG<tspan font-size="9" dy="3">35-55</tspan><tspan dy="-3">-immunized C57BL/6.</tspan><tspan font-style="italic">Il27r</tspan><tspan font-size="9" dy="-5">−/−</tspan></text>
<rect x="1475" y="327" width="11" height="11" fill="#e8262a" stroke="#111" stroke-width="1.4"/><line x1="1470" y1="332" x2="1491" y2="332" stroke="#111"/><text x="1496" y="337">pMOG<tspan font-size="9" dy="3">38-49</tspan><tspan dy="-3">/IA</tspan><tspan font-size="9" dy="-5">b</tspan><tspan dy="5">-NPs</tspan></text>
<line x1="1470" y1="351" x2="1491" y2="351" stroke="#111"/><circle cx="1480" cy="351" r="5.5" fill="#3b5fc0" stroke="#111" stroke-width="1.4"/><text x="1496" y="356">Uncoated-NPs</text>
<path class="ax" d="M1471 368V511H1686"/>
<g class="e"><path d="M1471 511h-5M1471 475h-5M1471 440h-5M1471 404h-5M1471 368h-5M1503 511v5M1542 511v5M1592 511v5M1630 511v5M1680 511v5"/></g>
<text x="1463" y="515" text-anchor="end">0</text><text x="1463" y="479" text-anchor="end">1</text><text x="1463" y="444" text-anchor="end">2</text><text x="1463" y="408" text-anchor="end">3</text><text x="1463" y="372" text-anchor="end">4</text>
<text x="1503" y="529" text-anchor="middle">1</text><text x="1542" y="529" text-anchor="middle">2</text><text x="1592" y="529" text-anchor="middle">3</text><text x="1630" y="529" text-anchor="middle">4</text><text x="1680" y="529" text-anchor="middle">5</text>
<text x="1592" y="543" text-anchor="middle">Dose Number</text>
<text transform="translate(1448,440) rotate(-90)" text-anchor="middle">EAE score</text>
<line x1="1503" y1="378" x2="1503" y2="511" stroke="#111" stroke-width="1.6" stroke-dasharray="7,5"/>
<polyline class="ln" stroke="#111" marker-start="url(#mR)" marker-mid="url(#mR)" marker-end="url(#mR)" points="1478,507 1491,493 1503,461 1516,457 1529,459 1542,459 1554,463 1567,465 1580,472 1592,475 1604,477 1618,481 1630,481 1642,484 1654,484 1668,484 1680,490"/>
<polyline class="ln" stroke="#111" marker-start="url(#cB)" marker-mid="url(#cB)" marker-end="url(#cB)" points="1478,511 1491,493 1503,461 1516,425 1529,427 1542,422 1554,416 1567,420 1580,418 1592,418 1604,425 1618,429 1630,432 1642,432 1654,432 1668,432 1680,425"/>
<text x="1650" y="474">P &lt; 0.0001</text>
</g>

<!-- ================= l ================= -->
<text x="1750" y="314" class="L">l</text>
<g>
<text x="1780" y="315" class="b">pMOG<tspan font-size="9" dy="3">35-55</tspan><tspan dy="-3">-immunized C57BL/6.</tspan><tspan font-style="italic">Il27r</tspan><tspan font-size="9" dy="-5">−/−</tspan></text>
<rect x="1788" y="330" width="11" height="11" fill="#e8262a" stroke="#111" stroke-width="1.4"/><line x1="1783" y1="335" x2="1804" y2="335" stroke="#111"/><text x="1808" y="340">pMOG<tspan font-size="9" dy="3">38-49</tspan><tspan dy="-3">/IA</tspan><tspan font-size="9" dy="-5">b</tspan><tspan dy="5">-NPs</tspan></text>
<line x1="1783" y1="354" x2="1804" y2="354" stroke="#111"/><circle cx="1793" cy="354" r="5.5" fill="#3b5fc0" stroke="#111" stroke-width="1.4"/><text x="1806" y="359">Uncoated-NPs</text>
<path class="ax" d="M1800 365V508H2016"/>
<g class="e"><path d="M1800 508h-5M1800 468h-5M1800 427h-5M1800 386h-5M1832 508v5M1868 508v5M1920 508v5M1959 508v5M2007 508v5"/></g>
<text x="1792" y="512" text-anchor="end">60</text><text x="1792" y="472" text-anchor="end">80</text><text x="1792" y="431" text-anchor="end">100</text><text x="1792" y="390" text-anchor="end">120</text>
<text x="1832" y="526" text-anchor="middle">1</text><text x="1868" y="526" text-anchor="middle">2</text><text x="1920" y="526" text-anchor="middle">3</text><text x="1959" y="526" text-anchor="middle">4</text><text x="2007" y="526" text-anchor="middle">5</text>
<text x="1913" y="540" text-anchor="middle">Dose Number</text>
<text transform="translate(1766,440) rotate(-90)" text-anchor="middle">% Weight change</text>
<line x1="1832" y1="370" x2="1832" y2="508" stroke="#111" stroke-width="1.6" stroke-dasharray="7,5"/>
<polyline class="ln" stroke="#111" marker-start="url(#mR)" marker-mid="url(#mR)" marker-end="url(#mR)" points="1805,431 1819,431 1832,435 1844,441 1856,437 1869,437 1882,431 1895,423 1908,419 1920,417 1933,413 1946,411 1958,409 1971,407 1984,409 1996,409 2009,401"/>
<polyline class="ln" stroke="#111" marker-start="url(#cB)" marker-mid="url(#cB)" marker-end="url(#cB)" points="1805,431 1819,431 1832,439 1844,455 1856,464 1869,464 1882,462 1895,460 1908,464 1920,462 1933,458 1946,453 1958,451 1971,445 1984,443 1996,443 2009,421"/>
<text x="1974" y="384">P &lt; 0.0001</text>
</g>

<!-- ================= m ================= -->
<text x="0" y="574" class="L">m</text>
<g>
<text x="31" y="569" class="b">pMOG<tspan font-size="9" dy="3">35-55</tspan><tspan dy="-3">-immunized C57BL/6.</tspan><tspan font-style="italic">Il27r</tspan><tspan font-size="9" dy="-5">−/−</tspan></text>
<text x="94" y="589" text-anchor="middle">Uncoated NPs</text>
<text x="212" y="589" text-anchor="middle">pMOG<tspan font-size="9" dy="3">38-49</tspan><tspan dy="-3">/IA</tspan><tspan font-size="9" dy="-5">b</tspan><tspan dy="5">-NPs</tspan></text>
<rect x="45" y="598" width="104" height="87" fill="#e3d6c2"/>
<path d="M45 620 Q80 640 100 598 M60 685 Q75 650 110 635 Q135 625 149 640 M45 660 Q70 655 85 685" stroke="#9fa6cc" stroke-width="14" fill="none"/>
<path d="M48 640 Q85 650 120 615 M70 670 Q100 640 140 650" stroke="#b5854a" stroke-width="9" fill="none"/>
<rect x="154" y="598" width="104" height="87" fill="#efe2d0"/>
<path d="M154 625 Q190 640 210 598 M170 685 Q185 650 220 635 Q245 625 258 640" stroke="#aab0d8" stroke-width="12" fill="none"/>
<rect x="42" y="690" width="105" height="87" fill="#c982bb"/>
<path d="M42 720 Q80 730 100 690 M60 777 Q80 740 115 730 Q135 725 147 735" stroke="#6a64b8" stroke-width="12" fill="none"/>
<rect x="154" y="690" width="104" height="87" fill="#c47fb8"/>
<path d="M154 715 Q190 735 215 690 M165 777 Q190 740 225 728 Q245 722 258 730" stroke="#4d6ec0" stroke-width="13" fill="none"/>
<text x="48" y="680" style="fill:#fff;font-size:16px">10x</text><text x="46" y="772" style="fill:#fff;font-size:16px">10x</text>
<text x="268" y="654">Iba1</text><text x="266" y="739">LFB+HE</text>
<rect x="397" y="562" width="11" height="11" fill="#e8262a" stroke="#111" stroke-width="1.4"/><line x1="393" y1="567" x2="412" y2="567" stroke="#111"/><text x="415" y="572">pMOG<tspan font-size="9" dy="3">38-49</tspan><tspan dy="-3">/IA</tspan><tspan font-size="9" dy="-5">b</tspan><tspan dy="5">-NPs</tspan></text>
<line x1="393" y1="585" x2="412" y2="585" stroke="#111"/><circle cx="402" cy="585" r="5.5" fill="#3b5fc0" stroke="#111" stroke-width="1.4"/><text x="411" y="590">Uncoated-NPs</text>
<path class="ax" d="M353 618V778H442"/>
<g class="e"><path d="M353 778h-5M353 738h-5M353 698h-5M353 658h-5M353 618h-5M377 778v5M420 778v5"/></g>
<text x="345" y="782" text-anchor="end">0</text><text x="345" y="742" text-anchor="end">2</text><text x="345" y="702" text-anchor="end">4</text><text x="345" y="662" text-anchor="end">6</text><text x="345" y="622" text-anchor="end">8</text>
<text transform="translate(334,698) rotate(-90)" text-anchor="middle">Iba1 intensity (relative rank)</text>
<g class="br"><path d="M377 612V618H420V612"/></g><text x="398" y="611" text-anchor="middle">P=0.0262</text>
<path d="M377 642V694" stroke="#3b5fc0" stroke-width="2"/><path d="M420 720V758" stroke="#e8262a" stroke-width="2"/>
<g fill="#3b5fc0" stroke="#111" stroke-width="1.5"><circle cx="377" cy="640" r="5.5"/><circle cx="377" cy="658" r="5.5"/><circle cx="377" cy="678" r="5.5"/><circle cx="377" cy="696" r="5.5"/></g>
<g fill="#e8262a" stroke="#111" stroke-width="1.5"><rect x="415" y="713" width="10" height="10"/><rect x="415" y="723" width="10" height="10"/><rect x="415" y="733" width="10" height="10"/><rect x="415" y="743" width="10" height="10"/><rect x="415" y="753" width="10" height="10"/></g>
<path d="M365 668H389M408 738H432" stroke="#111" stroke-width="2.5"/>
<path class="ax" d="M489 618V778H574"/>
<g class="e"><path d="M489 778h-5M489 738h-5M489 698h-5M489 658h-5M489 618h-5M511 778v5M553 778v5"/></g>
<text x="481" y="782" text-anchor="end">0</text><text x="481" y="742" text-anchor="end">2</text><text x="481" y="702" text-anchor="end">4</text><text x="481" y="662" text-anchor="end">6</text><text x="481" y="622" text-anchor="end">8</text>
<text transform="translate(468,698) rotate(-90)" text-anchor="middle">LFB intensity (relative rank)</text>
<g class="br"><path d="M511 612V618H553V612"/></g><text x="532" y="611" text-anchor="middle">P=0.0262</text>
<path d="M511 642V694" stroke="#3b5fc0" stroke-width="2"/><path d="M553 720V758" stroke="#e8262a" stroke-width="2"/>
<g fill="#3b5fc0" stroke="#111" stroke-width="1.5"><circle cx="511" cy="640" r="5.5"/><circle cx="511" cy="658" r="5.5"/><circle cx="511" cy="678" r="5.5"/><circle cx="511" cy="696" r="5.5"/></g>
<g fill="#e8262a" stroke="#111" stroke-width="1.5"><rect x="548" y="713" width="10" height="10"/><rect x="548" y="723" width="10" height="10"/><rect x="548" y="733" width="10" height="10"/><rect x="548" y="743" width="10" height="10"/><rect x="548" y="753" width="10" height="10"/></g>
<path d="M499 668H523M541 738H565" stroke="#111" stroke-width="2.5"/>
</g>

<!-- ================= n ================= -->
<text x="588" y="576" class="L">n</text>
<g>
<text x="660" y="574" class="b">pMOG<tspan font-size="9" dy="3">35-55</tspan><tspan dy="-3">-immunized C57BL/6.</tspan><tspan font-style="italic">Il27r</tspan><tspan font-size="9" dy="-5">−/−</tspan></text>
<rect x="706" y="588" width="22" height="14" fill="#e8262a" stroke="#111"/><text x="731" y="600">pMOG<tspan font-size="9" dy="3">38-49</tspan><tspan dy="-3">/IA</tspan><tspan font-size="9" dy="-5">b</tspan><tspan dy="5">-NPs</tspan></text>
<rect x="860" y="588" width="20" height="14" fill="#2b3590" stroke="#111"/><text x="883" y="600">Uncoated NPs</text>
<text x="690" y="624" text-anchor="middle">Spleen</text><text x="785" y="624" text-anchor="middle">Blood</text><text x="905" y="623" text-anchor="middle">Inguinal LN</text><text x="981" y="623" text-anchor="middle">BM</text>
<text transform="translate(610,700) rotate(-90)" text-anchor="middle">% pMOG<tspan font-size="9" dy="3">38-49</tspan><tspan dy="-3">/IA</tspan><tspan font-size="9" dy="-5">b</tspan></text>
<text transform="translate(625,700) rotate(-90)" text-anchor="middle">tet+ in CD4+</text>
<path class="ax" d="M656 633V760H735"/>
<g class="e"><path d="M656 760h-5M656 739h-5M656 718h-5M656 697h-5M656 676h-5M656 655h-5M656 634h-5"/></g>
<text x="648" y="764" text-anchor="end" class="s">0.0</text><text x="648" y="743" text-anchor="end" class="s">0.2</text><text x="648" y="722" text-anchor="end" class="s">0.4</text><text x="648" y="701" text-anchor="end" class="s">0.6</text><text x="648" y="680" text-anchor="end" class="s">0.8</text><text x="648" y="659" text-anchor="end" class="s">1.0</text><text x="648" y="638" text-anchor="end" class="s">1.2</text>
<text x="666" y="646" class="s">P = 0.0286</text>
<g class="e"><path d="M679 658V654M673 654h12M714 721V713M708 713h12"/></g>
<rect class="bar" x="665" y="658" width="29" height="102" fill="#e8262a"/><rect class="bar" x="700" y="721" width="29" height="39" fill="#3b5fc0"/>
<path class="ax" d="M765 633V756H842"/>
<g class="e"><path d="M765 756h-5M765 725h-5M765 694h-5M765 664h-5M765 633h-5"/></g>
<text x="757" y="760" text-anchor="end" class="s">0.0</text><text x="757" y="729" text-anchor="end" class="s">0.5</text><text x="757" y="698" text-anchor="end" class="s">1.0</text><text x="757" y="668" text-anchor="end" class="s">1.5</text><text x="757" y="637" text-anchor="end" class="s">2.0</text>
<text x="773" y="643" class="s">P = 0.0286</text>
<g class="e"><path d="M786 662V647M780 647h12M822 750V747M816 747h12"/></g>
<rect class="bar" x="774" y="662.5" width="25" height="93.5" fill="#e8262a"/><rect class="bar" x="809" y="750" width="26" height="6" fill="#3b5fc0"/>
<path class="ax" d="M866 633V756H941"/>
<g class="e"><path d="M866 756h-5M866 731h-5M866 707h-5M866 682h-5M866 658h-5M866 633h-5"/></g>
<text x="858" y="760" text-anchor="end" class="s">0.0</text><text x="858" y="735" text-anchor="end" class="s">0.2</text><text x="858" y="711" text-anchor="end" class="s">0.4</text><text x="858" y="686" text-anchor="end" class="s">0.6</text><text x="858" y="662" text-anchor="end" class="s">0.8</text><text x="858" y="637" text-anchor="end" class="s">1.0</text>
<text x="878" y="652" class="s">P = 0.0286</text>
<g class="e"><path d="M925 709V701M919 701h12"/></g>
<rect class="bar" x="872" y="666" width="31" height="90" fill="#e8262a"/><rect class="bar" x="912" y="709" width="26" height="47" fill="#3b5fc0"/>
<path class="ax" d="M959 633V755H1041"/>
<g class="e"><path d="M959 755h-5M959 724.5h-5M959 694h-5M959 663.5h-5M959 633h-5"/></g>
<text x="951" y="759" text-anchor="end" class="s">0</text><text x="951" y="728" text-anchor="end" class="s">1</text><text x="951" y="698" text-anchor="end" class="s">2</text><text x="951" y="667" text-anchor="end" class="s">3</text><text x="951" y="637" text-anchor="end" class="s">4</text>
<text x="970" y="645" class="s">P = 0.0286</text>
<g class="e"><path d="M972 676V660M966 660h12M1021 729V720M1015 720h12"/></g>
<rect class="bar" x="959" y="676" width="27" height="79" fill="#e8262a"/><rect class="bar" x="1008" y="729" width="27" height="26" fill="#3b5fc0"/>
<rect x="1124" y="589" width="18" height="6" fill="#1c2a78"/><text x="1148" y="597">pMOG<tspan font-size="9" dy="3">38-49</tspan><tspan dy="-3">/IA</tspan><tspan font-size="9" dy="-5">b</tspan><tspan dy="5"> tet+</tspan></text>
<rect x="1124" y="610" width="18" height="6" fill="#e8262a"/><text x="1148" y="618">pMOG<tspan font-size="9" dy="3">38-49</tspan><tspan dy="-3">/IA</tspan><tspan font-size="9" dy="-5">b</tspan><tspan dy="5"> tet−</tspan></text>
<g fill="none" stroke-width="1.3">
<rect x="1061" y="630" width="95" height="95" stroke="#111" stroke-width="2"/>
<polyline stroke="#e8262a" points="1062,632 1065,660 1070,685 1078,692 1086,690 1092,698 1100,715 1110,721 1125,724 1140,725"/>
<polyline stroke="#1c2a78" points="1062,718 1066,700 1072,710 1080,690 1085,680 1090,700 1094,655 1098,680 1102,670 1106,705 1110,690 1118,712 1125,710 1132,724 1150,725"/>
<rect x="1163" y="630" width="95" height="95" stroke="#111" stroke-width="2"/>
<polyline stroke="#e8262a" points="1164,640 1168,650 1172,660 1176,670 1180,658 1185,680 1192,675 1197,690 1202,720 1210,725 1240,725"/>
<polyline stroke="#1c2a78" points="1164,720 1168,700 1174,705 1180,692 1186,680 1192,670 1196,678 1200,640 1204,708 1210,720 1220,718 1230,725 1250,725"/>
<rect x="1266" y="630" width="95" height="95" stroke="#111" stroke-width="2"/>
<polyline stroke="#e8262a" points="1267,640 1272,670 1278,660 1284,675 1290,650 1294,668 1300,688 1310,712 1320,722 1340,725"/>
<polyline stroke="#1c2a78" points="1267,700 1272,708 1278,690 1286,692 1292,680 1298,660 1304,640 1310,650 1316,648 1322,680 1328,690 1336,715 1345,722 1358,725"/>
</g>
<text x="1108" y="742" text-anchor="middle">CD49b</text><text x="1210" y="742" text-anchor="middle">LAG-3</text><text x="1314" y="742" text-anchor="middle">LAP</text>
</g>

<!-- ================= o ================= -->
<text x="1376" y="578" class="L">o</text>
<g>
<rect x="1425" y="565" width="25" height="13" fill="#e8262a" stroke="#111"/><text x="1453" y="577">2.5mi/IA<tspan font-size="9" dy="-5">g7</tspan><tspan dy="5">-NP</tspan></text>
<rect x="1425" y="585" width="25" height="13" fill="#1aa050" stroke="#111"/><text x="1453" y="597">HEL<tspan font-size="9" dy="3">14-22</tspan><tspan dy="-3">/IA</tspan><tspan font-size="9" dy="-5">g7</tspan><tspan dy="5">-NP</tspan></text>
<path class="ax" d="M1428 642V780H1610"/>
<g class="e"><path d="M1428 780h-5M1428 745.5h-5M1428 711h-5M1428 676.5h-5M1428 642h-5M1461 780v5M1501 780v5M1550 780v5M1590 780v5"/></g>
<text x="1420" y="784" text-anchor="end">0</text><text x="1420" y="750" text-anchor="end">10</text><text x="1420" y="715" text-anchor="end">20</text><text x="1420" y="681" text-anchor="end">30</text><text x="1420" y="646" text-anchor="end">40</text>
<text transform="translate(1404,711) rotate(-90)" text-anchor="middle">% B220+ cells</text>
<g class="e"><path d="M1461 675V652M1455 652h12M1550 744V739M1544 739h12M1590 745V740M1584 740h12"/></g>
<rect class="bar" x="1447" y="675" width="28" height="105" fill="#e8262a"/>
<rect class="bar" x="1487" y="739" width="28" height="41" fill="#e8262a"/>
<rect class="bar" x="1536" y="744" width="28" height="36" fill="#1aa050"/>
<rect class="bar" x="1576" y="745.5" width="27" height="34.5" fill="#1aa050"/>
<g class="br"><path d="M1461 643V648H1501V643M1461 626V621H1554V626"/></g>
<text x="1483" y="641" text-anchor="middle">P = 0.029</text><text x="1517" y="617" text-anchor="middle">P = 0.0095</text>
<text x="1461" y="797" text-anchor="middle">PLN</text><text x="1501" y="797" text-anchor="middle">MLN</text><text x="1550" y="797" text-anchor="middle">PLN</text><text x="1590" y="797" text-anchor="middle">MLN</text>
</g>

<!-- ================= p ================= -->
<text x="1628" y="584" class="L">p</text>
<g>
<text x="1672" y="628">PLNs</text><text x="1893" y="630">Spleen</text>
<path class="ax" d="M1667 640V774H1871"/>
<g class="e"><path d="M1667 774h-5M1667 729h-5M1667 685h-5M1667 640h-5M1670 774v5M1738 774v5M1805 774v5M1869 774v5"/></g>
<text x="1659" y="778" text-anchor="end">0</text><text x="1659" y="733" text-anchor="end">10</text><text x="1659" y="689" text-anchor="end">20</text><text x="1659" y="644" text-anchor="end">30</text>
<text x="1670" y="792" text-anchor="middle">0.0</text><text x="1738" y="792" text-anchor="middle">0.2</text><text x="1805" y="792" text-anchor="middle">0.4</text><text x="1866" y="792" text-anchor="middle">0.6</text>
<text transform="translate(1640,707) rotate(-90)" text-anchor="middle">% B220+ cells</text>
<line x1="1673" y1="729" x2="1845" y2="665" stroke="#111" stroke-width="2"/>
<g fill="#111"><circle cx="1673" cy="725" r="3.3"/><circle cx="1677" cy="732" r="3.3"/><circle cx="1677" cy="740" r="3.3"/><circle cx="1680" cy="752" r="3.3"/><circle cx="1683" cy="734" r="3.3"/><circle cx="1687" cy="747" r="3.3"/><circle cx="1690" cy="747" r="3.3"/><circle cx="1697" cy="725" r="3.3"/><circle cx="1700" cy="714" r="3.3"/><circle cx="1700" cy="696" r="3.3"/><circle cx="1703" cy="700" r="3.3"/><circle cx="1707" cy="698" r="3.3"/><circle cx="1710" cy="689" r="3.3"/><circle cx="1710" cy="649" r="3.3"/><circle cx="1703" cy="727" r="3.3"/><circle cx="1714" cy="716" r="3.3"/><circle cx="1717" cy="732" r="3.3"/><circle cx="1720" cy="711" r="3.3"/><circle cx="1720" cy="743" r="3.3"/><circle cx="1744" cy="711" r="3.3"/><circle cx="1757" cy="685" r="3.3"/><circle cx="1764" cy="718" r="3.3"/><circle cx="1848" cy="669" r="3.3"/></g>
<text x="1815" y="757">P=0.0054</text><text x="1815" y="771">r<tspan font-size="9" dy="-5">2</tspan><tspan dy="5">=0.302</tspan></text>
<path class="ax" d="M1890 640V774H2092"/>
<g class="e"><path d="M1890 774h-5M1890 729h-5M1890 685h-5M1890 640h-5M1891 774v5M1958 774v5M2025 774v5M2087 774v5"/></g>
<text x="1882" y="778" text-anchor="end">0</text><text x="1882" y="733" text-anchor="end">10</text><text x="1882" y="689" text-anchor="end">20</text><text x="1882" y="644" text-anchor="end">30</text>
<text x="1893" y="792" text-anchor="middle">0.0</text><text x="1958" y="792" text-anchor="middle">0.5</text><text x="2025" y="792" text-anchor="middle">1.0</text><text x="2087" y="792" text-anchor="middle">1.5</text>
<line x1="1927" y1="720" x2="2072" y2="702" stroke="#111" stroke-width="2"/>
<g fill="#111"><circle cx="1927" cy="725" r="3.3"/><circle cx="1945" cy="740" r="3.3"/><circle cx="1949" cy="747" r="3.3"/><circle cx="1951" cy="747" r="3.3"/><circle cx="1951" cy="653" r="3.3"/><circle cx="1953" cy="696" r="3.3"/><circle cx="1954" cy="711" r="3.3"/><circle cx="1955" cy="685" r="3.3"/><circle cx="1958" cy="685" r="3.3"/><circle cx="1958" cy="752" r="3.3"/><circle cx="1958" cy="736" r="3.3"/><circle cx="1961" cy="734" r="3.3"/><circle cx="1962" cy="669" r="3.3"/><circle cx="1982" cy="732" r="3.3"/><circle cx="1992" cy="711" r="3.3"/><circle cx="2001" cy="698" r="3.3"/><circle cx="2002" cy="714" r="3.3"/><circle cx="2002" cy="752" r="3.3"/><circle cx="2022" cy="714" r="3.3"/><circle cx="2038" cy="723" r="3.3"/><circle cx="2041" cy="725" r="3.3"/><circle cx="2042" cy="687" r="3.3"/><circle cx="2042" cy="743" r="3.3"/><circle cx="2058" cy="711" r="3.3"/><circle cx="2061" cy="680" r="3.3"/><circle cx="2063" cy="718" r="3.3"/><circle cx="2068" cy="700" r="3.3"/><circle cx="2079" cy="649" r="3.3"/></g>
<text x="2043" y="757">P=0.251</text><text x="2043" y="773">r<tspan font-size="9" dy="-5">2</tspan><tspan dy="5">=0.050</tspan></text>
<text x="1884" y="812" text-anchor="middle">% 2.5mi/IA<tspan font-size="9" dy="-5">g7</tspan><tspan dy="5"> tetramer+ cells</tspan></text>
</g>

<!-- ================= q ================= -->
<text x="2" y="836" class="L">q</text>
<g>
<rect x="69" y="837" width="23" height="11" fill="#e8262a" stroke="#111"/><text x="94" y="848">2.5mi/IA<tspan font-size="9" dy="-5">g7</tspan><tspan dy="5">-NP-treated</tspan></text>
<rect x="69" y="852" width="23" height="11" fill="#1aa050" stroke="#111"/><text x="94" y="863">Untreated</text>
<path class="ax" d="M79 897V1015H250"/>
<g class="e"><path d="M79 1015h-5M79 991h-5M79 968h-5M79 944h-5M79 921h-5M79 897h-5"/></g>
<text x="71" y="1019" text-anchor="end">0</text><text x="71" y="995" text-anchor="end">20</text><text x="71" y="972" text-anchor="end">40</text><text x="71" y="948" text-anchor="end">60</text><text x="71" y="925" text-anchor="end">80</text><text x="71" y="901" text-anchor="end">100</text>
<text transform="translate(37,956) rotate(-90)" text-anchor="middle">% BDC2.5-CD4+ T-cell</text>
<text transform="translate(52,956) rotate(-90)" text-anchor="middle">proliferation</text>
<g class="e"><path d="M140 971V968M134 968h12"/></g>
<rect class="bar" x="99" y="919" width="21" height="96" fill="#e8262a"/>
<rect class="bar" x="129" y="971" width="23" height="44" fill="#e8262a"/>
<rect class="bar" x="184" y="915" width="22" height="100" fill="#3fbf5a"/>
<rect class="bar" x="219" y="920" width="21" height="95" fill="#1aa050"/>
<g class="br"><path d="M110 882V888H142V882M142 913V907H229V913"/></g>
<text x="122" y="878" text-anchor="middle">P = 0.0043</text><text x="185" y="902" text-anchor="middle">P = 0.0022</text>
<text x="105" y="1029" text-anchor="middle">MLN</text><text x="142" y="1029" text-anchor="middle">PLN</text><text x="193" y="1029" text-anchor="middle">MLN</text><text x="230" y="1029" text-anchor="middle">PLN</text>
<line x1="74" y1="1032" x2="250" y2="1032" stroke="#111" stroke-width="1.5"/>
<text x="162" y="1048" text-anchor="middle">Source of B-cells used as APCs</text>
<text x="364" y="873" text-anchor="middle">2.5mi/IA<tspan font-size="9" dy="-5">g7</tspan><tspan dy="5">-NP-treated</tspan></text><text x="478" y="874" text-anchor="middle">Untreated</text>
<text x="320" y="887" text-anchor="middle">PLN</text><text x="382" y="887" text-anchor="middle">MLN</text><text x="449" y="887" text-anchor="middle">PLN</text><text x="509" y="887" text-anchor="middle">MLN</text>
<text transform="translate(268,919) rotate(-90)" text-anchor="middle" class="s">2.5mi</text><text transform="translate(280,919) rotate(-90)" text-anchor="middle" class="s">peptide</text>
<text transform="translate(268,983) rotate(-90)" text-anchor="middle" class="s">GPI<tspan font-size="7" dy="2">282-292</tspan></text><text transform="translate(280,983) rotate(-90)" text-anchor="middle" class="s">peptide</text>
<g fill="none" stroke="#111" stroke-width="1.3">
<rect x="292" y="890" width="58" height="58" stroke-width="1.8"/><rect x="354" y="890" width="59" height="58" stroke-width="1.8"/><rect x="419" y="890" width="59" height="58" stroke-width="1.8"/><rect x="481" y="890" width="59" height="58" stroke-width="1.8"/>
<rect x="292" y="953" width="58" height="59" stroke-width="1.8"/><rect x="354" y="953" width="59" height="59" stroke-width="1.8"/><rect x="419" y="953" width="59" height="59" stroke-width="1.8"/><rect x="481" y="953" width="59" height="59" stroke-width="1.8"/>
<polyline points="292,947 320,946 328,940 335,938 340,920 344,898 347,930 350,945"/>
<polyline points="354,947 370,946 378,935 385,898 390,915 396,935 402,940 408,930 413,940"/>
<polyline points="419,947 430,946 435,930 442,905 446,895 452,915 458,925 465,935 478,945"/>
<polyline points="481,947 492,946 498,930 504,905 508,895 514,915 520,925 527,935 540,945"/>
<polyline points="292,1011 335,1010 340,995 343,958 346,1005 350,1010"/>
<polyline points="354,1011 400,1010 405,990 408,960 411,1010"/>
<polyline points="419,1011 462,1010 466,990 469,962 472,1010 478,1011"/>
<polyline points="481,1011 525,1010 529,985 533,960 536,1010 540,1011"/>
<path d="M315 931H342M375 931H403M441 931H470M502 931H530M313 993H342M375 993H405M440 993H468M503 993H532"/>
</g>
<text x="305" y="928" class="s">31%</text><text x="356" y="928" class="s">79%</text><text x="421" y="928" class="s">82%</text><text x="483" y="928" class="s">82%</text>
<text x="318" y="990" class="s">2%</text><text x="379" y="990" class="s">5%</text><text x="446" y="990" class="s">3%</text><text x="508" y="990" class="s">3%</text>
<text x="480" y="1028" text-anchor="middle">CFSE</text>
</g>

<!-- ================= r ================= -->
<text x="564" y="836" class="L">r</text>
<g>
<path class="ax" d="M629 853V976H812"/>
<g class="e"><path d="M629 976h-5M629 935h-5M629 894h-5M629 853h-5"/></g>
<text x="621" y="980" text-anchor="end">0</text><text x="621" y="939" text-anchor="end">50</text><text x="621" y="898" text-anchor="end">100</text><text x="621" y="857" text-anchor="end">150</text>
<text transform="translate(592,915) rotate(-90)" text-anchor="middle">IL-10 (pg/mL)</text>
<g class="e"><path d="M643 896V883M637 883h12"/></g>
<rect class="bar" x="636" y="896.5" width="14" height="79.5" fill="#e8262a"/>
<rect x="651" y="973" width="158" height="3" fill="#111"/>
<text x="609" y="993" text-anchor="middle">LPS</text>
<text x="643" y="988" text-anchor="middle">+</text><text x="656" y="988" text-anchor="middle">-</text><text x="690" y="988" text-anchor="middle">+</text><text x="702" y="988" text-anchor="middle">-</text><text x="731" y="988" text-anchor="middle">+</text><text x="753" y="988" text-anchor="middle">-</text><text x="779" y="988" text-anchor="middle">+</text><text x="796" y="988" text-anchor="middle">-</text>
<text x="650" y="1001" text-anchor="middle">PLN</text><text x="650" y="1018" text-anchor="middle">Treated</text>
<text x="694" y="1016" text-anchor="middle">PLN</text><text x="706" y="1034" text-anchor="middle">Untreated</text>
<text x="742" y="998" text-anchor="middle">MLN</text><text x="742" y="1015" text-anchor="middle">Treated</text>
<text x="789" y="1017" text-anchor="middle">MLN</text><text x="789" y="1034" text-anchor="middle">Untreated</text>
<path class="e" d="M673 990V1008M787 980V1000"/>
</g>

<!-- ================= s ================= -->
<text x="812" y="836" class="L">s</text>
<g>
<rect x="845" y="832" width="21" height="11" fill="#e8262a" stroke="#111"/><text x="868" y="842">2.5mi/IA<tspan font-size="9" dy="-5">g7</tspan><tspan dy="5">-NP-treated</tspan></text>
<rect x="845" y="847" width="21" height="11" fill="#3fbf5a" stroke="#111"/><text x="868" y="857">Untreated</text>
<text x="917" y="878" text-anchor="middle" class="b">B-cells</text>
<path class="ax" d="M890 888V1005H1006"/>
<g class="e"><path d="M890 1005h-5M890 981.6h-5M890 958h-5M890 935h-5M890 911.4h-5M890 888h-5M920 1005v5M978 1005v5"/></g>
<text x="882" y="1009" text-anchor="end">0.0</text><text x="882" y="986" text-anchor="end">0.5</text><text x="882" y="962" text-anchor="end">1.0</text><text x="882" y="939" text-anchor="end">1.5</text><text x="882" y="915" text-anchor="end">2.0</text><text x="882" y="892" text-anchor="end">2.5</text>
<text transform="translate(846,946) rotate(-90)" text-anchor="middle">Normalized</text><text transform="translate(861,946) rotate(-90)" text-anchor="middle">increase</text>
<g class="e"><path d="M920 921V908M914 908h12"/></g>
<rect class="bar" x="900" y="921" width="39" height="84" fill="#e8262a"/><rect class="bar" x="958" y="958" width="40" height="47" fill="#1aa050"/>
<g class="br"><path d="M920 902V897H980V902"/></g><text x="952" y="891" text-anchor="middle">P = 0.05</text>
<text x="1068" y="840" text-anchor="middle">Untreated</text>
<text x="1068" y="924" text-anchor="middle">2.5mi/IA<tspan font-size="9" dy="-5">g7</tspan><tspan dy="5">-NP</tspan></text><text x="1070" y="939" text-anchor="middle">-treated</text>
<rect x="1033" y="843" width="70" height="66" fill="#fff" stroke="#111" stroke-width="1.8"/>
<rect x="1033" y="942" width="70" height="66" fill="#fff" stroke="#111" stroke-width="1.8"/>
<g fill="#222"><ellipse cx="1052" cy="893" rx="17" ry="9" transform="rotate(-30 1052 893)"/><ellipse cx="1052" cy="992" rx="17" ry="9" transform="rotate(-30 1052 992)"/></g>
<g fill="#bbb" stroke="#111" stroke-width="1.5"><path d="M1060 867L1070 857L1078 862L1076 878L1066 881Z"/><path d="M1078 890L1088 880L1094 890L1094 906L1084 903Z"/><path d="M1060 966L1070 956L1078 961L1076 977L1066 980Z"/><path d="M1078 989L1088 979L1094 989L1094 1005L1084 1002Z"/></g>
<text x="1038" y="858" class="s">0.78%</text><text x="1080" y="878" class="s">0.73%</text><text x="1055" y="957" class="s">1.4%</text><text x="1080" y="976" class="s">0.7%</text>
<text transform="translate(1020,925) rotate(-90)" text-anchor="middle">PKH26 (2.5mi-pulsed)</text>
<text x="1070" y="1026" text-anchor="middle">CFSE(GPI-pulsed)</text>
</g>

<!-- ================= t ================= -->
<text x="1118" y="836" class="L">t</text>
<g>
<rect x="1140" y="832" width="19" height="11" fill="#e8262a" stroke="#111"/><text x="1161" y="842">2.5mi/IA<tspan font-size="9" dy="-5">g7</tspan><tspan dy="5">-NP-treated</tspan></text>
<rect x="1140" y="847" width="19" height="11" fill="#3fbf5a" stroke="#111"/><text x="1161" y="857">Untreated</text>
<text x="1196" y="889" class="b">DCs</text>
<path class="ax" d="M1185 888V1005H1306"/>
<g class="e"><path d="M1185 1005h-5M1185 981.6h-5M1185 958h-5M1185 935h-5M1185 911.4h-5M1185 888h-5M1218 1005v5M1276 1005v5"/></g>
<text x="1177" y="1009" text-anchor="end">0.0</text><text x="1177" y="986" text-anchor="end">0.5</text><text x="1177" y="962" text-anchor="end">1.0</text><text x="1177" y="939" text-anchor="end">1.5</text><text x="1177" y="915" text-anchor="end">2.0</text><text x="1177" y="892" text-anchor="end">2.5</text>
<text transform="translate(1143,946) rotate(-90)" text-anchor="middle">Normalized</text><text transform="translate(1158,946) rotate(-90)" text-anchor="middle">increase</text>
<g class="e"><path d="M1218 960V957M1212 957h12"/></g>
<rect class="bar" x="1198" y="959.6" width="39" height="45.4" fill="#e8262a"/><rect class="bar" x="1256" y="958" width="40" height="47" fill="#1aa050"/>
<text x="1362" y="840" text-anchor="middle">Untreated</text>
<text x="1362" y="924" text-anchor="middle">2.5mi/IA<tspan font-size="9" dy="-5">g7</tspan><tspan dy="5">-NP</tspan></text><text x="1364" y="939" text-anchor="middle">-treated</text>
<rect x="1326" y="843" width="70" height="66" fill="#fff" stroke="#111" stroke-width="1.8"/>
<rect x="1326" y="942" width="70" height="66" fill="#fff" stroke="#111" stroke-width="1.8"/>
<g fill="#222"><ellipse cx="1345" cy="890" rx="17" ry="10" transform="rotate(-30 1345 890)"/><ellipse cx="1345" cy="989" rx="17" ry="10" transform="rotate(-30 1345 989)"/></g>
<g fill="#bbb" stroke="#111" stroke-width="1.5"><path d="M1350 865L1358 849L1366 853L1362 873L1354 877Z"/><path d="M1372 885L1380 877L1388 882L1386 898L1376 896Z"/><path d="M1350 964L1358 948L1366 952L1362 972L1354 976Z"/><path d="M1372 984L1380 976L1388 981L1386 997L1376 995Z"/></g>
<text x="1328" y="856" class="s">0.3%</text><text x="1370" y="875" class="s">0.1%</text><text x="1328" y="955" class="s">0.38%</text><text x="1358" y="1006" class="s">0.16%</text>
<text transform="translate(1315,925) rotate(-90)" text-anchor="middle">PKH26 (2.5mi-pulsed)</text>
<text x="1368" y="1026" text-anchor="middle">CFSE(GPI-pulsed)</text>
</g>

<!-- ================= u ================= -->
<text x="1421" y="836" class="L">u</text>
<g>
<line x1="1462" y1="850" x2="1494" y2="850" stroke="#3b5fc0" stroke-width="1.5"/><rect x="1473" y="845" width="10" height="10" fill="#2b3590" stroke="#111"/><text x="1500" y="855">rIgG</text>
<line x1="1538" y1="850" x2="1570" y2="850" stroke="#e8262a" stroke-width="1.5"/><rect x="1549" y="845" width="10" height="10" fill="#e8262a" stroke="#111"/><text x="1583" y="855">αIL-10</text>
<line x1="1462" y1="869" x2="1494" y2="869" stroke="#111" stroke-width="1.5"/><rect x="1473" y="864" width="10" height="10" fill="#111"/><text x="1507" y="874">αTGFβ</text>
<line x1="1560" y1="869" x2="1590" y2="869" stroke="#7b2f9e" stroke-width="1.5"/><rect x="1570" y="864" width="10" height="10" fill="#7b2f9e" stroke="#111"/><text x="1599" y="874">αIL-21R</text>
<path class="ax" d="M1496 897V1011H1668"/>
<g class="e"><path d="M1496 1011h-5M1496 973h-5M1496 935h-5M1496 897h-5M1521 1011v5M1563 1011v5M1605 1011v5M1648 1011v5"/></g>
<text x="1488" y="1015" text-anchor="end">0</text><text x="1488" y="977" text-anchor="end">10</text><text x="1488" y="939" text-anchor="end">20</text><text x="1488" y="901" text-anchor="end">30</text>
<text transform="translate(1450,954) rotate(-90)" text-anchor="middle">% CD5+/CD1dhi</text>
<text transform="translate(1465,954) rotate(-90)" text-anchor="middle">IL10+ B220+ cells</text>
<g class="e"><path d="M1521 935V926M1515 926h12M1563 951V939M1557 939h12M1605 939V912M1599 912h12M1648 985V978.7M1642 978.7h12"/></g>
<rect class="bar" x="1506" y="935" width="29" height="76" fill="#3b5fc0"/>
<rect class="bar" x="1549" y="951" width="28" height="60" fill="#e8262a"/>
<rect class="bar" x="1591" y="939" width="29" height="72" fill="#111"/>
<rect class="bar" x="1633" y="985.5" width="29" height="25.5" fill="#7b2f9e"/>
<g class="br"><path d="M1521 911V906H1648V911"/></g><text x="1584" y="901" text-anchor="middle">P = 0.0286</text>
</g>

<!-- ================= v ================= -->
<text x="1684" y="846" class="L">v</text>
<g>
<rect x="1706" y="840" width="23" height="13" fill="#e8262a" stroke="#111"/><text x="1733" y="851">2.5mi/IA<tspan font-size="9" dy="-5">g7</tspan><tspan dy="5">-NP-treated</tspan></text>
<rect x="1706" y="856" width="23" height="12" fill="#3fbf5a" stroke="#111"/><text x="1733" y="867">Untreated</text>
<path class="ax" d="M1757 895V1017H1840"/>
<g class="e"><path d="M1757 1017h-5M1757 956h-5M1757 895h-5M1786 1017v5M1813 1017v5"/></g>
<text x="1749" y="1021" text-anchor="end">60</text><text x="1749" y="960" text-anchor="end">70</text><text x="1749" y="899" text-anchor="end">80</text>
<text transform="translate(1714,957) rotate(-90)" text-anchor="middle">% proliferated</text>
<text transform="translate(1730,957) rotate(-90)" text-anchor="middle">BDC2.5 T-cells</text>
<g class="e"><path d="M1786 997V977M1780 977h12M1813 930V910M1807 910h12"/></g>
<rect class="bar" x="1773" y="997.5" width="27" height="19.5" fill="#e8262a"/>
<rect class="bar" x="1800" y="930" width="27" height="87" fill="#1aa050"/>
<text x="1764" y="903">P = 0.0286</text>
</g>

<!-- ================= x ================= -->
<text x="1876" y="846" class="L">x</text>
<g>
<path class="ax" d="M1900 892V1013H1985"/>
<g class="e"><path d="M1900 1013h-5M1900 989h-5M1900 965h-5M1900 940h-5M1900 916h-5M1900 892h-5M1930 1013v5M1962 1013v5"/></g>
<text x="1892" y="1017" text-anchor="end">0</text><text x="1892" y="993" text-anchor="end">5</text><text x="1892" y="969" text-anchor="end">10</text><text x="1892" y="944" text-anchor="end">15</text><text x="1892" y="920" text-anchor="end">20</text><text x="1892" y="896" text-anchor="end">25</text>
<text transform="translate(1870,955) rotate(-90)" text-anchor="middle" style="font-size:12px">% CD19+CD3− cells</text>
<g class="e"><path d="M1930 914V905M1924 905h12"/></g>
<rect class="bar" x="1918" y="914" width="24" height="99" fill="#1aa050"/>
<rect class="bar" x="1949" y="1007" width="25" height="6" fill="#e8262a"/>
<text x="1930" y="1031" text-anchor="middle">Pre</text><text x="1962" y="1031" text-anchor="middle">Post</text>
</g>

<!-- ================= y ================= -->
<text x="2" y="1090" class="L">y</text>
<g>
<rect x="32" y="1091" width="22" height="10" fill="#e8262a" stroke="#111"/><text x="56" y="1101">2.5mi/IA<tspan font-size="9" dy="-5">g7</tspan><tspan dy="5">-NP-treated</tspan></text>
<rect x="32" y="1106" width="22" height="10" fill="#1aa050" stroke="#111"/><text x="56" y="1116">Untreated</text>
<text transform="translate(22,1205) rotate(-90)" text-anchor="middle">2<tspan font-size="9" dy="-5">−ΔΔCT</tspan></text>
<text x="64" y="1137">c-Maf</text>
<path class="ax" d="M54 1145V1263H143"/>
<g class="e"><path d="M54 1263h-5M54 1224h-5M54 1184h-5M54 1145h-5M78 1263v5M121 1263v5"/></g>
<text x="47" y="1267" text-anchor="end">0</text><text x="47" y="1228" text-anchor="end">200</text><text x="47" y="1188" text-anchor="end">400</text><text x="47" y="1149" text-anchor="end">600</text>
<g class="e"><path d="M78 1202V1169M72 1169h12M121 1192V1169M115 1169h12"/></g>
<rect class="bar" x="62" y="1202" width="32" height="61" fill="#1aa050"/><rect class="bar" x="106" y="1192" width="30" height="71" fill="#e8262a"/>
<text x="186" y="1137">IL-21</text><text x="196" y="1155">P = 0.0476</text>
<path class="ax" d="M179 1145V1263H268"/>
<g class="e"><path d="M179 1263h-5M179 1233.5h-5M179 1204h-5M179 1174.5h-5M179 1145h-5M202 1263v5M246 1263v5"/></g>
<text x="172" y="1267" text-anchor="end">0</text><text x="172" y="1238" text-anchor="end">500</text><text x="172" y="1208" text-anchor="end">1000</text><text x="172" y="1179" text-anchor="end">1500</text><text x="172" y="1149" text-anchor="end">2000</text>
<g class="e"><path d="M202 1230V1219M196 1219h12M246 1181V1164.5M240 1164.5h12"/></g>
<rect class="bar" x="187" y="1230.5" width="31" height="32.5" fill="#1aa050"/><rect class="bar" x="231" y="1181.6" width="30" height="81.4" fill="#e8262a"/>
<text x="312" y="1137">IL-10</text><text x="326" y="1152">P = 0.0278</text>
<path class="ax" d="M304 1145V1263H400"/>
<g class="e"><path d="M304 1263h-5M304 1239.4h-5M304 1215.8h-5M304 1192.2h-5M304 1168.6h-5M304 1145h-5M329 1263v5M377 1263v5"/></g>
<text x="297" y="1267" text-anchor="end">0</text><text x="297" y="1243" text-anchor="end">100</text><text x="297" y="1220" text-anchor="end">200</text><text x="297" y="1196" text-anchor="end">300</text><text x="297" y="1173" text-anchor="end">400</text><text x="297" y="1149" text-anchor="end">500</text>
<g class="e"><path d="M329 1256V1252M323 1252h12M377 1206V1167M371 1167h12"/></g>
<rect class="bar" x="312" y="1256" width="34" height="7" fill="#1aa050"/><rect class="bar" x="361" y="1206" width="32" height="57" fill="#e8262a"/>
<text x="440" y="1137">IFNγ</text>
<path class="ax" d="M429 1145V1263H526"/>
<g class="e"><path d="M429 1263h-5M429 1233.5h-5M429 1204h-5M429 1174.5h-5M429 1145h-5M452 1263v5M501 1263v5"/></g>
<text x="422" y="1267" text-anchor="end">0</text><text x="422" y="1238" text-anchor="end">100</text><text x="422" y="1208" text-anchor="end">200</text><text x="422" y="1179" text-anchor="end">300</text><text x="422" y="1149" text-anchor="end">400</text>
<g class="e"><path d="M452 1222V1202.5M446 1202.5h12M501 1200V1177M495 1177h12"/></g>
<rect class="bar" x="437" y="1222" width="30" height="41" fill="#1aa050"/><rect class="bar" x="485" y="1200.5" width="32" height="62.5" fill="#e8262a"/>
<text x="562" y="1136">Lag-3</text>
<path class="ax" d="M549 1140V1263H645"/>
<g class="e"><path d="M549 1263h-5M549 1222h-5M549 1181h-5M549 1140h-5M574 1263v5M620 1263v5"/></g>
<text x="542" y="1267" text-anchor="end">0</text><text x="542" y="1226" text-anchor="end">20</text><text x="542" y="1185" text-anchor="end">40</text><text x="542" y="1144" text-anchor="end">60</text>
<g class="e"><path d="M574 1205V1189M568 1189h12M620 1177V1160M614 1160h12"/></g>
<rect class="bar" x="558" y="1205.6" width="33" height="57.4" fill="#1aa050"/><rect class="bar" x="605" y="1177" width="31" height="86" fill="#e8262a"/>
<text x="680" y="1136">CD49b</text>
<path class="ax" d="M669 1140V1263H760"/>
<g class="e"><path d="M669 1263h-5M669 1222h-5M669 1181h-5M669 1140h-5M692 1263v5M738 1263v5"/></g>
<text x="662" y="1267" text-anchor="end">0</text><text x="662" y="1226" text-anchor="end">20</text><text x="662" y="1185" text-anchor="end">40</text><text x="662" y="1144" text-anchor="end">60</text>
<g class="e"><path d="M692 1236V1224M686 1224h12M738 1193V1156M732 1156h12"/></g>
<rect class="bar" x="677" y="1236" width="30" height="27" fill="#1aa050"/><rect class="bar" x="722" y="1193" width="32" height="70" fill="#e8262a"/>
</g>
</svg>
</body></html>
